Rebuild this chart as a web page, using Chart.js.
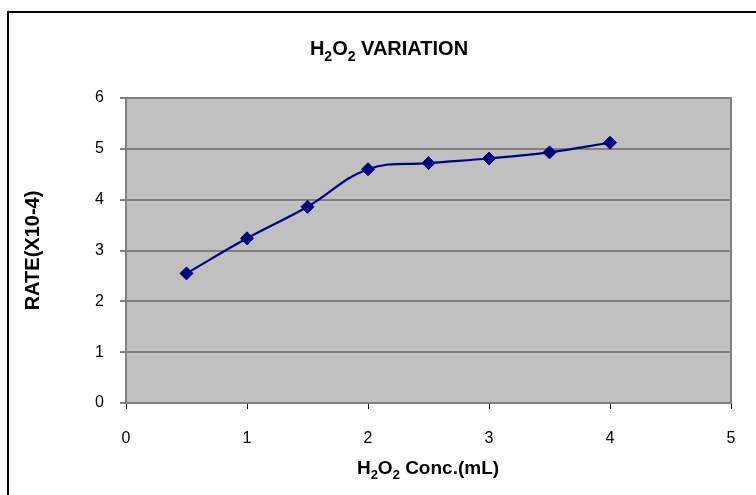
<!DOCTYPE html>
<html>
<head>
<meta charset="utf-8">
<script src="https://cdn.jsdelivr.net/npm/chart.js@4/dist/chart.umd.min.js"></script>
<style>
  body { margin: 0; background: #fff; overflow: hidden; }
  #frame { position: absolute; left: 7px; top: 11px; width: 800px; height: 600px; border: 2px solid #000; }
  #chart { position: absolute; left: 0; top: 0; }
</style>
</head>
<body>
<div id="frame"></div>
<canvas id="chart" width="756" height="495"></canvas>
<script>
// data
const conc = [0.5, 1, 1.5, 2, 2.5, 3, 3.5, 4];
const rate = [2.55, 3.24, 3.86, 4.60, 4.72, 4.81, 4.93, 5.12];
const xTicks = [0, 1, 2, 3, 4, 5];
const yTicks = [0, 1, 2, 3, 4, 5, 6];

// text pieces, second value = subscript
const titleParts = [["H", 0], ["2", 1], ["O", 0], ["2", 1], [" VARIATION", 0]];
const xTitleParts = [["H", 0], ["2", 1], ["O", 0], ["2", 1], [" Conc.(mL)", 0]];
const yTitle = "RATE(X10-4)";

const FONT = "'Liberation Sans', Arial, sans-serif";

function drawRich(ctx, parts, cx, cy, size) {
  const big = "bold " + size + "px " + FONT;
  const small = "bold " + Math.round(size * 0.68) + "px " + FONT;
  let total = 0;
  parts.forEach(p => {
    ctx.font = p[1] ? small : big;
    total += ctx.measureText(p[0]).width;
  });
  let x = cx - total / 2;
  ctx.fillStyle = "#000";
  ctx.textBaseline = "alphabetic";
  ctx.textAlign = "left";
  parts.forEach(p => {
    ctx.font = p[1] ? small : big;
    ctx.fillText(p[0], x, cy + (p[1] ? size * 0.28 : 0));
    x += ctx.measureText(p[0]).width;
  });
}

const plotStyle = {
  id: "plotStyle",
  beforeDraw(chart) {
    const a = chart.chartArea;
    const ctx = chart.ctx;
    ctx.save();
    ctx.fillStyle = "#c0c0c0";
    ctx.fillRect(a.left, a.top, a.right - a.left, a.bottom - a.top);
    ctx.restore();
  },
  beforeDatasetsDraw(chart) {
    const a = chart.chartArea;
    const ctx = chart.ctx;
    ctx.save();
    ctx.strokeStyle = "#808080";
    ctx.lineWidth = 2;
    ctx.strokeRect(a.left, a.top, a.right - a.left, a.bottom - a.top);
    ctx.restore();
  },
  afterDraw(chart) {
    const ctx = chart.ctx;
    const a = chart.chartArea;
    ctx.save();
    drawRich(ctx, titleParts, 389, 55, 20);
    drawRich(ctx, xTitleParts, 428, 474, 19);
    ctx.restore();
  }
};

new Chart(document.getElementById("chart"), {
  type: "line",
  data: {
    datasets: [{
      label: "Rate",
      data: conc.map((c, i) => ({ x: c, y: rate[i] })),
      borderColor: "#000080",
      backgroundColor: "#000080",
      borderWidth: 2.2,
      tension: 0.4,
      pointStyle: "rectRot",
      pointRadius: 6.5,
      pointBorderWidth: 1,
      pointBorderColor: "#000080",
      pointBackgroundColor: "#000080"
    }]
  },
  options: {
    responsive: false,
    animation: false,
    layout: { padding: { top: 98, right: 25, left: 0, bottom: 0 } },
    plugins: {
      legend: { display: false },
      title: { display: false },
      tooltip: { enabled: false }
    },
    scales: {
      x: {
        type: "linear",
        min: 0,
        max: 5,
        afterBuildTicks: s => { s.ticks = xTicks.map(v => ({ value: v })); },
        afterFit: s => { s.height = 92; },
        grid: { drawOnChartArea: false, drawTicks: true, tickLength: 6, tickColor: "#000", tickWidth: 1 },
        border: { display: false },
        ticks: { color: "#000", padding: 20, font: { family: FONT, size: 16 } }
      },
      y: {
        min: 0,
        max: 6,
        afterBuildTicks: s => { s.ticks = yTicks.map(v => ({ value: v })); },
        afterFit: s => { s.width = 126; },
        grid: { color: "#808080", lineWidth: 2, tickLength: 6, tickColor: "#000", tickWidth: 1 },
        border: { display: false },
        ticks: { color: "#000", padding: 16, font: { family: FONT, size: 16 } },
        title: {
          display: true,
          text: yTitle,
          color: "#000",
          padding: { top: 21, bottom: 0 },
          font: { family: FONT, size: 20, weight: "bold" }
        }
      }
    }
  },
  plugins: [plotStyle]
});
</script>
</body>
</html>
